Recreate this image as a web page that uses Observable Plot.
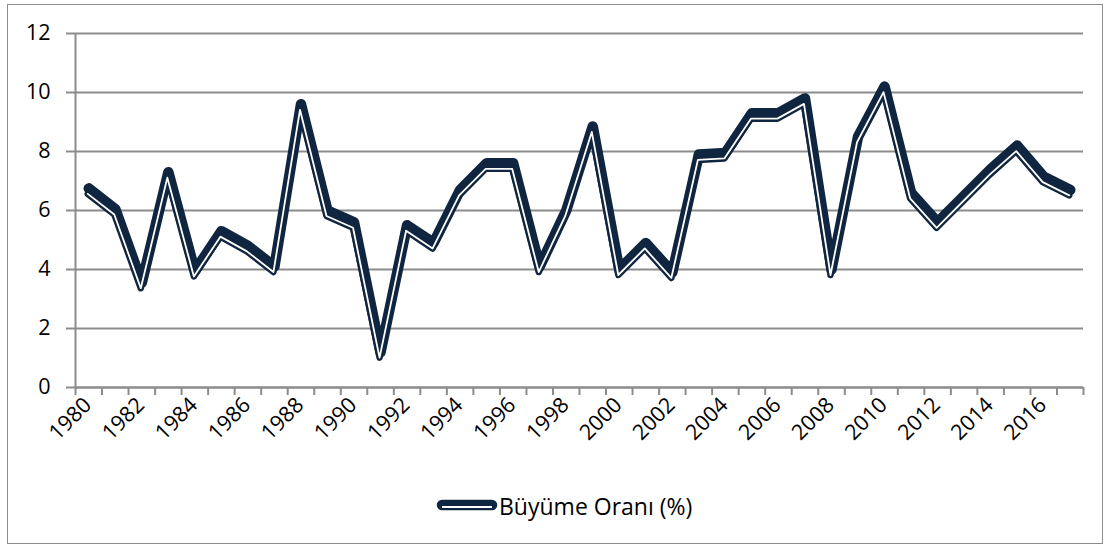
<!DOCTYPE html>
<html><head><meta charset="utf-8">
<script src="https://cdn.jsdelivr.net/npm/d3@7"></script>
<script src="https://cdn.jsdelivr.net/npm/@observablehq/plot@0.6"></script>
<style>
body{margin:0;background:#fff;font-family:"Open Sans",sans-serif;}
#wrap{position:relative;width:1107px;height:547px;overflow:hidden;}
#frame{position:absolute;left:7px;top:4px;width:1096px;height:540px;border:1.5px solid #8c8c8c;box-sizing:border-box;}
#chart{position:absolute;left:0;top:0;}
#legend{position:absolute;left:436px;top:490px;display:flex;align-items:center;font-size:23px;color:#000;white-space:nowrap;}
#legend svg{display:block;margin-right:1px;}
</style></head>
<body>
<div id="wrap"><div id="frame"></div><div id="chart"></div>
<div id="legend"><svg width="62" height="16"><line x1="6" y1="7" x2="56" y2="7" stroke="#10253f" stroke-width="10.5" stroke-linecap="round"/><line x1="6" y1="9" x2="56" y2="9" stroke="#ffffff" stroke-width="1.8"/></svg><span>Büyüme Oranı (%)</span></div>
</div>
<script>
const years = [1980,1981,1982,1983,1984,1985,1986,1987,1988,1989,1990,1991,1992,1993,1994,1995,1996,1997,1998,1999,2000,2001,2002,2003,2004,2005,2006,2007,2008,2009,2010,2011,2012,2013,2014,2015,2016,2017];
const growth = [6.75,6.05,3.55,7.3,3.95,5.3,4.8,4.1,9.6,6.0,5.6,1.2,5.5,4.9,6.7,7.6,7.6,4.1,6.0,8.85,4.0,4.9,3.9,7.9,7.95,9.3,9.3,9.8,4.0,8.5,10.2,6.6,5.6,6.5,7.4,8.2,7.15,6.7];
const yTicks = [0,2,4,6,8,10,12];
const xLabels = [1980,1982,1984,1986,1988,1990,1992,1994,1996,1998,2000,2002,2004,2006,2008,2010,2012,2014,2016];

const data = years.map((y,i)=>({year:y, value:growth[i]}));
const bounds = years.map(y=>y-0.5).concat([years[years.length-1]+0.5]);
const navy = "#10253f", grid = "#8c8c8c";

const chart = Plot.plot({
  width:1107, height:467,
  marginLeft:75, marginRight:24, marginTop:33, marginBottom:80,
  style:{fontFamily:"Open Sans, sans-serif", fontSize:"21.5px", color:"#000", background:"transparent"},
  x:{type:"linear", domain:[bounds[0], bounds[bounds.length-1]]},
  y:{domain:[0,12]},
  marks:[
    Plot.gridY(yTicks,{stroke:grid, strokeOpacity:1, strokeWidth:2}),
    Plot.ruleX([bounds[0]],{stroke:grid, strokeWidth:2}),
    Plot.ruleY([0],{stroke:grid, strokeWidth:2}),
    Plot.axisY(yTicks,{tickSize:9, stroke:grid, strokeWidth:2, tickPadding:16, fill:"#000", label:null, tickFormat:d=>String(d)}),
    Plot.axisX(bounds,{tickSize:8, stroke:grid, strokeWidth:2, tickFormat:()=>"", label:null}),
    Plot.axisX(xLabels,{tickSize:0, tickRotate:-45, tickPadding:14, dx:-1, fill:"#000", label:null, tickFormat:d=>String(d)}),
    Plot.line(data,{x:"year", y:"value", stroke:navy, strokeWidth:10.5, strokeLinejoin:"round", strokeLinecap:"round"}),
    Plot.line(data,{x:"year", y:"value", stroke:navy, strokeWidth:6.5, dx:-1, dy:5.5, strokeLinejoin:"round", strokeLinecap:"round"}),
    Plot.line(data,{x:"year", y:"value", stroke:"#fff", strokeWidth:1.8, dx:-1, dy:5.5, strokeLinejoin:"round", strokeLinecap:"round"})
  ]
});
document.getElementById("chart").appendChild(chart);
</script>
</body></html>
